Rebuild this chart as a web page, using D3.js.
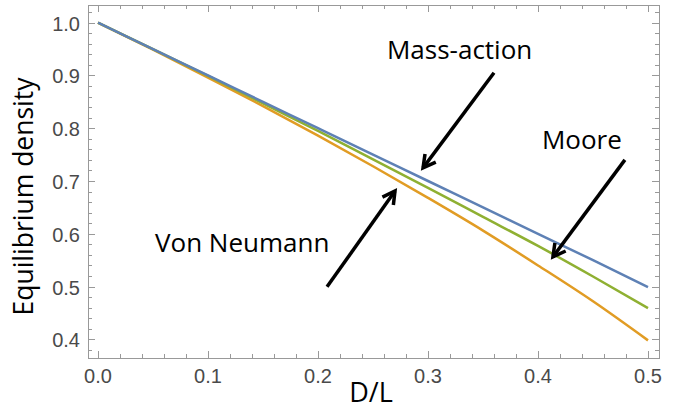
<!DOCTYPE html>
<html>
<head>
<meta charset="utf-8">
<script src="https://cdn.jsdelivr.net/npm/d3@7.9.0/dist/d3.min.js"></script>
<style>
  body { margin: 0; background: #fff; }
  svg { display: block; }
</style>
</head>
<body>
<svg id="chart" width="682" height="410"></svg>
<script>
// data
const ratio = [0, 0.05, 0.1, 0.15, 0.2, 0.25, 0.3, 0.35, 0.4, 0.45, 0.5];
const massAction = [1.0, 0.95, 0.9, 0.85, 0.8, 0.75, 0.7, 0.65, 0.6, 0.55, 0.499];
const moore = [1.0, 0.95, 0.899, 0.847, 0.795, 0.741, 0.687, 0.632, 0.577, 0.519, 0.459];
const vonNeumann = [1.0, 0.949, 0.896, 0.842, 0.786, 0.728, 0.668, 0.606, 0.54, 0.472, 0.398];

const xTicks = [0, 0.1, 0.2, 0.3, 0.4, 0.5];
const yTicks = [0.4, 0.5, 0.6, 0.7, 0.8, 0.9, 1.0];

// annotations, in data units: label position, arrow tail, arrow tip
const labels = ['Mass-action', 'Moore', 'Von Neumann'];
const labelPos = [[0.2627, 0.931], [0.4036, 0.761], [0.0518, 0.566]];
const arrowTail = [[0.36, 0.905], [0.479, 0.740], [0.2082, 0.4994]];
const arrowTip = [[0.2955, 0.7248], [0.4136, 0.5563], [0.27, 0.681]];

const colors = ['#5E81B5', '#8FB032', '#E19C24'];

const svg = d3.select('#chart');
const m = { left: 88, right: 659, top: 5, bottom: 358 };

const x = d3.scaleLinear().domain([-0.0091, 0.51]).range([m.left, m.right]);
const y = d3.scaleLinear().domain([0.3646, 1.0335]).range([m.bottom, m.top]);

const frameColor = '#999';
const labelColor = '#4a4a4a';

// minor ticks every 0.02
let xMinor = d3.range(-0.0, 0.5101, 0.02).filter(v => xTicks.every(t => Math.abs(t - v) > 1e-6));
let yMinor = d3.range(0.38, 1.0301, 0.02).filter(v => yTicks.every(t => Math.abs(t - v) > 1e-6));

const g = svg.append('g');

// ticks on all four sides, pointing in
const tickG = g.append('g').attr('stroke', frameColor).attr('stroke-width', 1);
function vTicks(vals, len) {
  vals.forEach(v => {
    let px = Math.round(x(v)) + 0.5;
    tickG.append('line').attr('x1', px).attr('x2', px).attr('y1', m.bottom).attr('y2', m.bottom - len);
    tickG.append('line').attr('x1', px).attr('x2', px).attr('y1', m.top).attr('y2', m.top + len);
  });
}
function hTicks(vals, len) {
  vals.forEach(v => {
    let py = Math.round(y(v)) + 0.5;
    tickG.append('line').attr('y1', py).attr('y2', py).attr('x1', m.left).attr('x2', m.left + len);
    tickG.append('line').attr('y1', py).attr('y2', py).attr('x1', m.right).attr('x2', m.right - len);
  });
}
vTicks(xTicks, 7);
vTicks(xMinor, 4);
hTicks(yTicks, 7);
hTicks(yMinor, 4);

// frame
g.append('rect')
  .attr('x', m.left + 0.5).attr('y', m.top + 0.5)
  .attr('width', m.right - m.left).attr('height', m.bottom - m.top)
  .attr('fill', 'none').attr('stroke', frameColor).attr('stroke-width', 1);

// tick labels
g.selectAll('.xl').data(xTicks).join('text')
  .attr('x', d => x(d)).attr('y', m.bottom + 25)
  .attr('text-anchor', 'middle')
  .attr('font-family', 'Liberation Sans, Arial, sans-serif')
  .attr('font-size', 20).attr('fill', labelColor)
  .text(d3.format('.1f'));

g.selectAll('.yl').data(yTicks).join('text')
  .attr('x', m.left - 8).attr('y', d => y(d) + 8)
  .attr('text-anchor', 'end')
  .attr('font-family', 'Liberation Sans, Arial, sans-serif')
  .attr('font-size', 20).attr('fill', labelColor)
  .text(d3.format('.1f'));

// axis titles
g.append('text')
  .attr('x', 371).attr('y', 402)
  .attr('text-anchor', 'middle')
  .attr('font-family', 'Open Sans, sans-serif')
  .attr('font-size', 27).attr('fill', '#000')
  .text('D/L');

g.append('text')
  .attr('transform', 'translate(33,196.5) rotate(-90)')
  .attr('text-anchor', 'middle')
  .attr('font-family', 'Open Sans, sans-serif')
  .attr('font-size', 26.5).attr('fill', '#000')
  .text('Equilibrium density');

// curves
const line = d3.line()
  .x((d, i) => x(ratio[i]))
  .y(d => y(d))
  .curve(d3.curveMonotoneX);

[vonNeumann, moore, massAction].forEach((s, idx) => {
  g.append('path')
    .attr('d', line(s))
    .attr('fill', 'none')
    .attr('stroke', [colors[2], colors[1], colors[0]][idx])
    .attr('stroke-width', 2.5);
});

// annotation labels
labels.forEach((t, i) => {
  g.append('text')
    .attr('x', x(labelPos[i][0])).attr('y', y(labelPos[i][1]))
    .attr('font-family', 'Open Sans, sans-serif')
    .attr('font-size', 26).attr('fill', '#000')
    .text(t);
});

// arrows with open heads
arrowTail.forEach((tail, i) => {
  const x0 = x(tail[0]), y0 = y(tail[1]);
  const x1 = x(arrowTip[i][0]), y1 = y(arrowTip[i][1]);
  const ang = Math.atan2(y1 - y0, x1 - x0);
  const hl = 14, spread = 0.5;
  const p1 = [x1 - hl * Math.cos(ang - spread), y1 - hl * Math.sin(ang - spread)];
  const p2 = [x1 - hl * Math.cos(ang + spread), y1 - hl * Math.sin(ang + spread)];
  g.append('line')
    .attr('x1', x0).attr('y1', y0).attr('x2', x1).attr('y2', y1)
    .attr('stroke', '#000').attr('stroke-width', 3.5);
  g.append('path')
    .attr('d', `M${p1[0]},${p1[1]}L${x1},${y1}L${p2[0]},${p2[1]}`)
    .attr('fill', 'none').attr('stroke', '#000').attr('stroke-width', 3.5)
    .attr('stroke-linejoin', 'miter');
});
</script>
</body>
</html>
